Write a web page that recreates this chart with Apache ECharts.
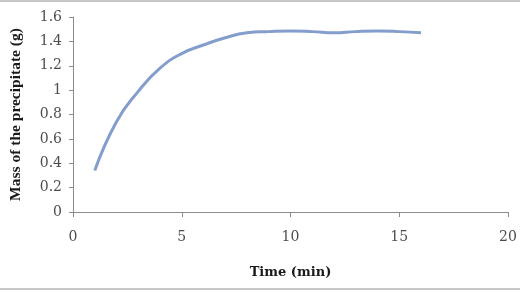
<!DOCTYPE html>
<html><head><meta charset="utf-8">
<script src="https://cdn.jsdelivr.net/npm/echarts@6/dist/echarts.min.js"></script>
<style>html,body{margin:0;padding:0;background:#fff}#c{width:520px;height:292px}</style>
</head><body><div id="c"></div>
<script>
const times = [1,2,3,4,5,6,7,8,9,10,11,12,13,14,15,16];
const mass = [0.34,0.74,0.99,1.18,1.30,1.37,1.43,1.47,1.48,1.485,1.48,1.47,1.48,1.485,1.48,1.47];
const xTitle = 'Time (min)';
const yTitle = 'Mass of the precipitate (g)';
const chart = echarts.init(document.getElementById('c'), null, {renderer:'canvas'});
const serif = '"Liberation Serif",serif';
const wide = '"DejaVu Serif",serif';
chart.setOption({
  animation:false,
  backgroundColor:'#fff',
  grid:{left:70,right:12,top:17,bottom:80},
  graphic:[
    {type:'rect',shape:{x:0,y:0,width:520,height:2},style:{fill:'#c8c8c8'}},
    {type:'rect',shape:{x:0,y:288,width:520,height:2},style:{fill:'#c8c8c8'}}
  ],
  xAxis:{type:'value',min:0,max:20,interval:5,
    name:xTitle,nameLocation:'middle',nameGap:54,
    nameTextStyle:{fontFamily:wide,fontWeight:'bold',fontSize:13,color:'#1a1a1a'},
    axisLine:{lineStyle:{color:'#8c8c8c',width:1}},
    axisTick:{show:true,length:5,lineStyle:{color:'#8c8c8c'}},
    axisLabel:{fontFamily:wide,fontSize:14,color:'#4d4d4d',margin:18},
    splitLine:{show:false}},
  yAxis:{type:'value',min:0,max:1.6,interval:0.2,
    name:yTitle,nameLocation:'middle',nameGap:49,nameRotate:90,
    nameTextStyle:{fontFamily:serif,fontWeight:'bold',fontSize:15.5,color:'#1a1a1a'},
    axisLine:{show:true,lineStyle:{color:'#8c8c8c',width:1}},
    axisTick:{show:true,length:4,lineStyle:{color:'#8c8c8c'}},
    axisLabel:{fontFamily:wide,fontSize:14,color:'#4d4d4d',margin:11,
      formatter:v=>String(Math.round(v*10)/10)},
    splitLine:{show:false}},
  series:[{type:'line',data:times.map((t,i)=>[t,mass[i]]),smooth:0.5,
    showSymbol:false,lineStyle:{color:'#839dcc',width:3}}]
});
</script></body></html>
